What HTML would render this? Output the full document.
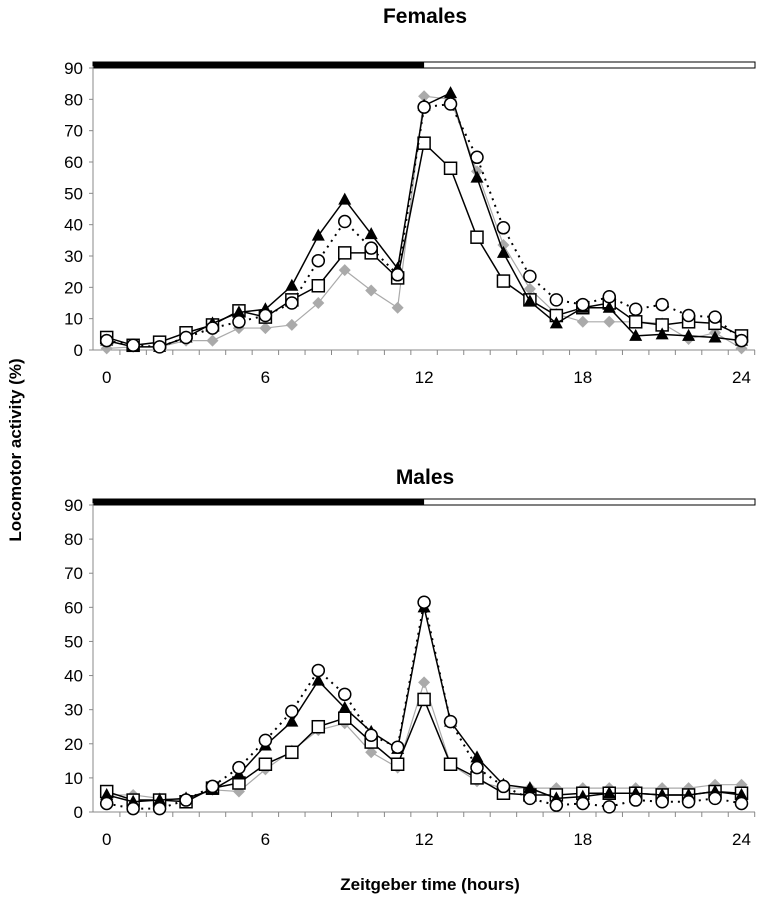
<!DOCTYPE html>
<html><head><meta charset="utf-8"><style>
body{margin:0;background:#fff;}
svg{display:block;font-family:"Liberation Sans",Arial,sans-serif;}
</style></head><body>
<svg id="c" width="759" height="899" viewBox="0 0 759 899">
<text x="425" y="23" text-anchor="middle" font-size="21" font-weight="bold">Females</text>
<text x="425" y="484" text-anchor="middle" font-size="21" font-weight="bold">Males</text>
<text x="430" y="890" text-anchor="middle" font-size="17" font-weight="bold">Zeitgeber time (hours)</text>
<text transform="translate(21,450) rotate(-90)" text-anchor="middle" font-size="17" font-weight="bold">Locomotor activity (%)</text>
</svg>
<script>
const hours=[0,1,2,3,4,5,6,7,8,9,10,11,12,13,14,15,16,17,18,19,20,21,22,23,24];
const xTicks=[0,6,12,18,24];
const yTicks=[0,10,20,30,40,50,60,70,80,90];
const fSquare=[4,1.5,2.5,5.5,8,12.5,10.5,16,20.5,31,31,23,66,58,36,22,16,11,13.5,15,9,8,9,8.5,4.5];
const fTriangle=[3,1,1,4,8.5,12,13,20.5,36.5,48,37,26,78,82,55,31,15.5,8.5,13.5,13.5,4.5,5,4.5,4,3];
const fCircle=[3,1.5,1,4,7,9,11,15,28.5,41,32.5,24,77.5,78.5,61.5,39,23.5,16,14.5,17,13,14.5,11,10.5,3];
const fDiamond=[0.5,1,1,3,3,7,7,8,15,25.5,19,13.5,81,80,57,33.5,19.5,11.5,9,9,9,8.5,3.5,5.5,0.5];
const mSquare=[6,3.5,3.5,3,7,8.5,14,17.5,25,27.5,20.5,14,33,14,10,5.5,5,5,5.5,5.5,5.5,5,5,6,5.5];
const mTriangle=[5,3,3.5,4,6.5,11,19.5,26.5,38.5,30.5,23.5,18.5,60,26.5,16,8,7,4,4.5,5.5,5.5,5,5,6,5];
const mCircle=[2.5,1,1,3.5,7.5,13,21,29.5,41.5,34.5,22.5,19,61.5,26.5,13,7.5,4,2,2.5,1.5,3.5,3,3,4,2.5];
const mDiamond=[5,5,4,3.5,6.5,6,12.5,18,24,26,17.5,13,38,14,9,7,7,7,7,7,7,7,7,8,8];
const NS="http://www.w3.org/2000/svg";
const svg=document.getElementById('c');
function mk(t,a,p){const e=document.createElementNS(NS,t);for(const k in a)e.setAttribute(k,a[k]);(p||svg).appendChild(e);return e;}
function panel(name,y0,y90,sets){
  const g=mk('g',{});
  
  
  const X=h=>106.7+h*26.45, Y=v=>y0+(y90-y0)*v/90;
  const bar=mk('rect',{x:93,y:y90-6,width:662,height:6,fill:'#fff',stroke:'#000','stroke-width':1},g);
  
  
  const dark=mk('rect',{x:93,y:y90-6,width:X(12)-93,height:6,fill:'#000'},g);
  
  
  mk('line',{x1:93,y1:y90-2,x2:93,y2:y0,stroke:'#888','stroke-width':1},g);
  mk('line',{x1:93,y1:y0,x2:755,y2:y0,stroke:'#888','stroke-width':1},g);
  yTicks.forEach(v=>{
    mk('line',{x1:89,y1:Y(v),x2:93,y2:Y(v),stroke:'#888'},g);
    const t=mk('text',{x:83,y:Y(v)+6,'text-anchor':'end','font-size':17},g);t.textContent=v;
    
    
  });
  for(let i=0;i<25;i++){mk('line',{x1:X(i)+13.2,y1:y0,x2:X(i)+13.2,y2:y0+5,stroke:'#888'},g);}
  xTicks.forEach(h=>{
    const t=mk('text',{x:X(h),y:y0+33,'text-anchor':'middle','font-size':17},g);t.textContent=h;
    
    
  });
  sets.forEach(s=>{
    const pts=s.d.map((v,i)=>X(hours[i])+','+Y(v)).join(' ');
    const l=mk('polyline',{points:pts,fill:'none',stroke:s.c,'stroke-width':s.w,'stroke-dasharray':s.dash||'none'},g);
    
    
    s.d.forEach((v,i)=>{
      const x=X(hours[i]),y=Y(v);let m;
      if(s.n==='square')m=mk('rect',{x:x-6,y:y-6,width:12,height:12,fill:'#fff',stroke:'#000','stroke-width':1.5},g);
      else if(s.n==='triangle')m=mk('polygon',{points:`${x},${y-7} ${x-6.5},${y+5} ${x+6.5},${y+5}`,fill:'#000'},g);
      else if(s.n==='circle')m=mk('circle',{cx:x,cy:y,r:6,fill:'#fff',stroke:'#000','stroke-width':1.5},g);
      else m=mk('polygon',{points:`${x},${y-6} ${x+6},${y} ${x},${y+6} ${x-6},${y}`,fill:'#aaa'},g);
      
      
    });
  });
}
panel('females',350,68,[
 {n:'diamond',d:fDiamond,c:'#aaa',w:1.2},
 {n:'square',d:fSquare,c:'#000',w:1.5},
 {n:'triangle',d:fTriangle,c:'#000',w:1.5},
 {n:'circle',d:fCircle,c:'#000',w:2,dash:'2,5'}]);
panel('males',812,505,[
 {n:'diamond',d:mDiamond,c:'#aaa',w:1.2},
 {n:'square',d:mSquare,c:'#000',w:1.5},
 {n:'triangle',d:mTriangle,c:'#000',w:1.5},
 {n:'circle',d:mCircle,c:'#000',w:2,dash:'2,5'}]);
</script>
</body></html>
